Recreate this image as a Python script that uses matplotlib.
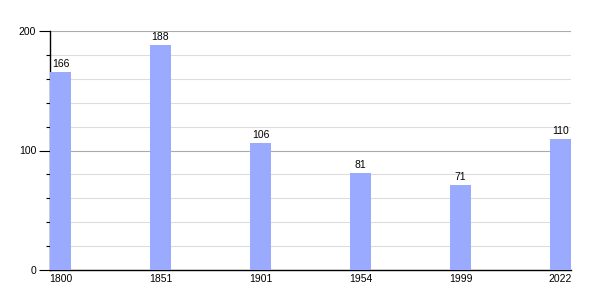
import numpy as np
import matplotlib
matplotlib.use("Agg")
import matplotlib.pyplot as plt
from matplotlib.ticker import MultipleLocator

# --- data -----------------------------------------------------------------
years = ["1800", "1851", "1901", "1954", "1999", "2022"]
population = [166, 188, 106, 81, 71, 110]

BAR_COLOUR = "#99aaff"
FS = 7.5

plt.rcParams["font.family"] = ["Liberation Sans", "DejaVu Sans"]

fig = plt.figure(figsize=(6, 3), dpi=100)
ax = fig.add_axes([50 / 600, 30 / 300, 521 / 600, 239 / 300])

x = np.arange(len(years))
width = 0.21
bars = ax.bar(x, population, width=width, color=BAR_COLOUR, zorder=3)

for b, v in zip(bars, population):
    ax.text(b.get_x() + b.get_width() / 2, v + 2.5, f"{v}",
            ha="center", va="bottom", fontsize=FS, color="black")

ax.set_xlim(-width / 2, len(years) - 1 + width / 2)
ax.set_ylim(0, 200)

ax.set_xticks(x)
ax.set_xticklabels(years, fontsize=FS)
ax.tick_params(axis="x", length=0, pad=3)

ax.yaxis.set_major_locator(MultipleLocator(100))
ax.yaxis.set_minor_locator(MultipleLocator(20))
ax.tick_params(axis="y", which="major", length=8, width=0.8, labelsize=FS, pad=2)
ax.tick_params(axis="y", which="minor", length=3, width=0.8)

# light minor grid, darker major grid
ax.grid(True, axis="y", which="minor", color="#dddddd", lw=0.8, zorder=0)
ax.grid(True, axis="y", which="major", color="#aaaaaa", lw=0.8, zorder=1)
ax.set_axisbelow(True)

for s in ("top", "right"):
    ax.spines[s].set_visible(False)
ax.spines["left"].set_linewidth(1.0)
ax.spines["bottom"].set_linewidth(1.0)

fig.savefig("out.png", dpi=100)
